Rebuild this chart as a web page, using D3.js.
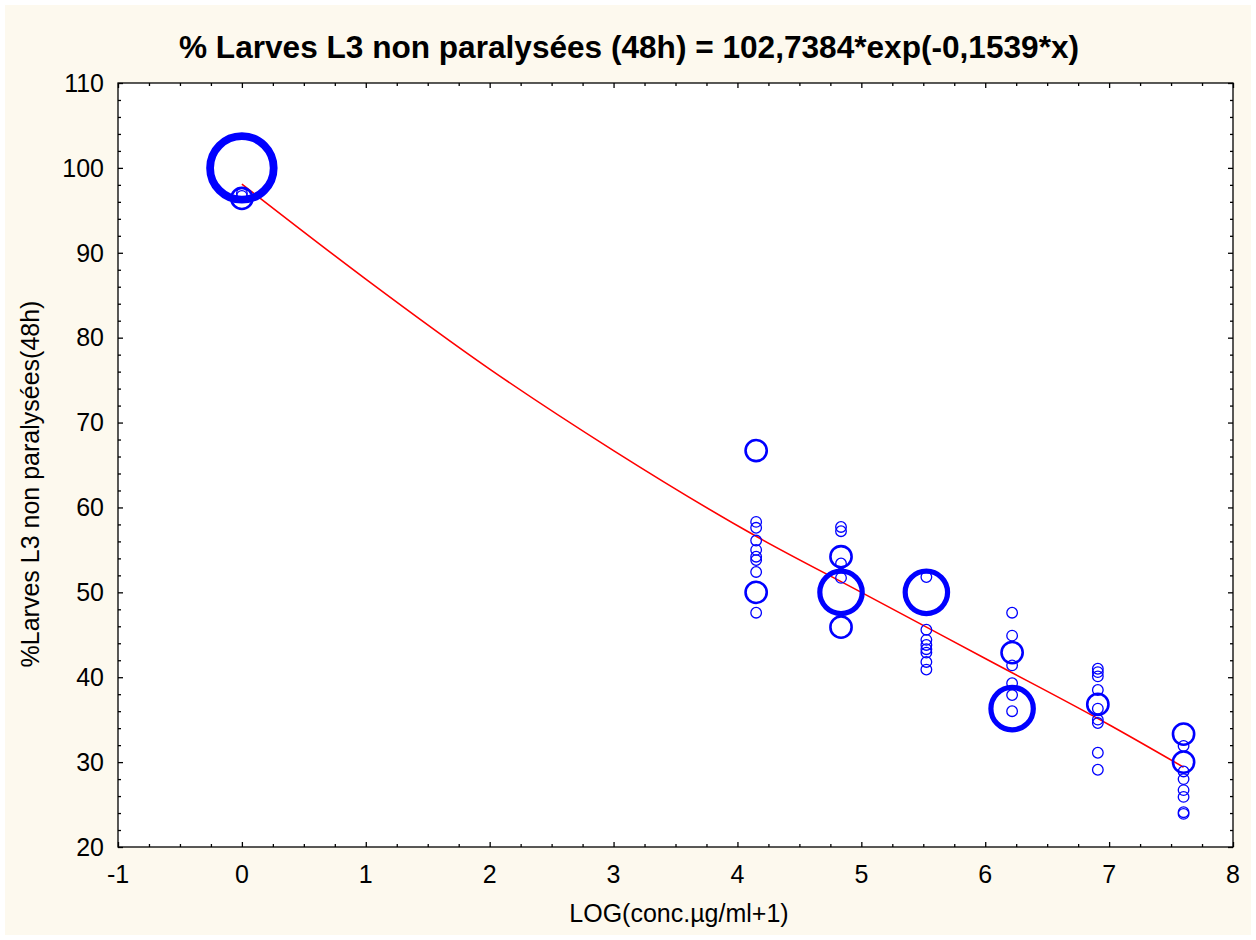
<!DOCTYPE html>
<html><head><meta charset="utf-8">
<script src="https://cdn.jsdelivr.net/npm/d3@7"></script>
<style>html,body{margin:0;padding:0;background:#fff;}svg{display:block;}</style>
</head><body>
<svg id="chart" width="1256" height="940"></svg>
<script>
// ---- data ----
const titleText = "% Larves L3 non paralysées (48h) = 102,7384*exp(-0,1539*x)";
const xTitle = "LOG(conc.µg/ml+1)";
const yTitle = "%Larves L3 non paralysées(48h)";
const xTicks = [-1,0,1,2,3,4,5,6,7,8];
const yTicks = [20,30,40,50,60,70,80,90,100,110];
// observations: x = LOG(conc+1), y = % non paralysed, n = frequency (bubble size)
const pointX = [0,0,0,0,
  4.151,4.151,4.151,4.151,4.151,4.151,4.151,4.151,4.151,4.151,
  4.836,4.836,4.836,4.836,4.836,4.836,4.836,
  5.525,5.525,5.525,5.525,5.525,5.525,5.525,5.525,5.525,
  6.217,6.217,6.217,6.217,6.217,6.217,6.217,6.217,
  6.909,6.909,6.909,6.909,6.909,6.909,6.909,6.909,6.909,6.909,
  7.601,7.601,7.601,7.601,7.601,7.601,7.601,7.601,7.601];
const pointY = [100,96.4,96.7,97.0,
  66.7,58.3,57.6,56.1,55.0,54.2,53.8,52.4,50.0,47.6,
  57.7,57.2,54.2,53.4,51.7,50.0,45.9,
  50.0,51.8,45.6,44.4,43.8,43.3,42.9,41.8,40.9,
  47.6,44.9,42.9,41.4,39.3,37.9,36.3,36.0,
  41.0,40.6,40.1,38.5,36.8,36.3,35.0,34.6,31.1,29.1,
  33.3,31.9,30.0,28.9,28.0,26.7,25.9,24.1,23.9];
const pointN = [6,2,1,1,
  2,1,1,1,1,1,1,1,2,1,
  1,1,2,1,1,4,2,
  4,1,1,1,1,1,1,1,1,
  1,1,2,1,1,1,4,1,
  1,1,1,1,2,1,1,1,1,1,
  2,1,2,1,1,1,1,1,1];
// fitted curve as drawn in the picture
const fitX = [0,1,2,3,4.151,5,6,7,7.601];
const fitY = [98.1,86.9,76.3,66.7,56.6,50.0,42.2,34.4,29.4];

// ---- layout ----
const svg = d3.select("#chart");
const W = 1256, H = 940;
const pL = 118, pR = 1233, pT = 83, pB = 847;
const font = "'Liberation Sans', Arial, sans-serif";

svg.append("rect").attr("x",5).attr("y",5).attr("width",W-10).attr("height",H-10).attr("fill","#fdf9ee");
svg.append("rect").attr("x",pL).attr("y",pT).attr("width",pR-pL).attr("height",pB-pT).attr("fill","#fff");

const x = d3.scaleLinear().domain([-1,8]).range([pL,pR]);
const y = d3.scaleLinear().domain([20,110]).range([pB,pT]);
const r = d3.scaleLinear().domain([0,1]).range([0,5.3]);
const sw = d3.scaleLinear().domain([0,1]).range([0,1.3]);

svg.append("clipPath").attr("id","clip").append("rect")
  .attr("x",pL).attr("y",pT).attr("width",pR-pL).attr("height",pB-pT);

// axes (ticks inward)
const minorX = d3.range(-1,8.001,0.25);
const minorY = d3.range(20,110.001,2);
function axis(gen, tx, ty, ticks, minor, size, minorSize) {
  const g = svg.append("g").attr("transform",`translate(${tx},${ty})`);
  g.call(gen.tickValues(minor).tickSize(minorSize).tickFormat(""));
  g.selectAll(".tick").filter(d => ticks.some(t => Math.abs(t-d)<1e-6)).select("line").attr("class","major");
  g.selectAll("line.major").each(function(){
    const l = d3.select(this);
    ["x2","y2"].forEach(a => { const v = +l.attr(a); if (v) l.attr(a, v>0 ? size : -size); });
  });
  g.select(".domain").remove();
  g.selectAll("line").attr("stroke","#000").attr("stroke-width",1.3);
  return g;
}
axis(d3.axisTop(x), 0, pB, xTicks, minorX, 5, 3);
axis(d3.axisBottom(x), 0, pT, xTicks, minorX, 5, 3);
axis(d3.axisRight(y), pL, 0, yTicks, minorY, 5, 3);
axis(d3.axisLeft(y), pR, 0, yTicks, minorY, 5, 3);
svg.append("rect").attr("x",pL).attr("y",pT).attr("width",pR-pL).attr("height",pB-pT)
  .attr("fill","none").attr("stroke","#000").attr("stroke-width",1.3);

// tick labels
svg.append("g").selectAll("text").data(xTicks).join("text")
  .attr("x",d=>x(d)).attr("y",pB+36).attr("text-anchor","middle")
  .attr("font-family",font).attr("font-size",25).attr("fill","#000").text(d=>d);
svg.append("g").selectAll("text").data(yTicks).join("text")
  .attr("x",pL-14).attr("y",d=>y(d)).attr("dy","0.35em").attr("text-anchor","end")
  .attr("font-family",font).attr("font-size",25).attr("fill","#000").text(d=>d);

// titles
svg.append("text").attr("x",629).attr("y",58).attr("text-anchor","middle")
  .attr("font-family",font).attr("font-weight","bold").attr("font-size",31.6).attr("fill","#000").text(titleText);
svg.append("text").attr("x",679).attr("y",922).attr("text-anchor","middle")
  .attr("font-family",font).attr("font-size",25).attr("fill","#000").text(xTitle);
svg.append("text").attr("transform","translate(39,484) rotate(-90)").attr("text-anchor","middle")
  .attr("font-family",font).attr("font-size",25).attr("fill","#000").text(yTitle);

// fitted curve
const line = d3.line().x(d=>x(d[0])).y(d=>y(d[1])).curve(d3.curveMonotoneX);
svg.append("path").datum(fitX.map((v,i)=>[v,fitY[i]])).attr("d",line)
  .attr("fill","none").attr("stroke","#ff0000").attr("stroke-width",1.6).attr("clip-path","url(#clip)");

// points
const pts = pointX.map((v,i)=>({x:v,y:pointY[i],n:pointN[i]}));
svg.append("g").attr("clip-path","url(#clip)").selectAll("circle").data(pts).join("circle")
  .attr("cx",d=>x(d.x)).attr("cy",d=>y(d.y)).attr("r",d=>r(d.n))
  .attr("fill","none").attr("stroke","#0000ff").attr("stroke-width",d=>sw(d.n));
</script>
</body></html>
